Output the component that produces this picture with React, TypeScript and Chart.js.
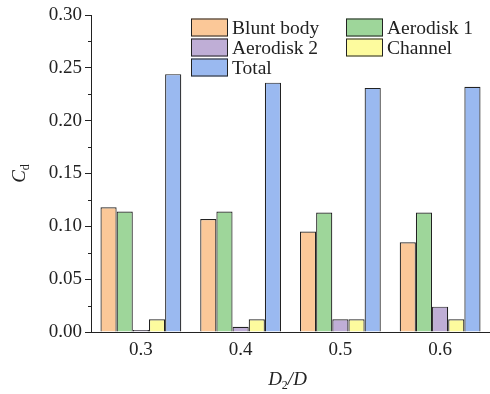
import React, { useEffect, useRef } from "react";
import { Chart, registerables } from "chart.js";

Chart.register(...registerables);

// Drag coefficient contributions for each D2/D ratio
const categories = ["0.3", "0.4", "0.5", "0.6"];
const bluntBody = [0.118, 0.107, 0.095, 0.085];
const aerodisk1 = [0.114, 0.114, 0.113, 0.113];
const aerodisk2 = [0.002, 0.005, 0.012, 0.024];
const channel = [0.012, 0.012, 0.012, 0.012];
const total = [0.244, 0.236, 0.231, 0.232];

const seriesLabels = ["Blunt body", "Aerodisk 1", "Aerodisk 2", "Channel", "Total"];
const seriesColors = ["#FBC898", "#9ED69A", "#BFAED6", "#FDFB9E", "#9AB9F0"];

const yMin = 0;
const yMax = 0.3;
const yStep = 0.05;

const FONT = "'Liberation Serif', 'Times New Roman', serif";
const INK = "#222";

// Minor y ticks, axis titles with subscripts, and the in-plot legend
const decorations = {
  id: "decorations",
  afterDraw(chart: any) {
    const { ctx, chartArea } = chart;
    const yScale = chart.scales.y;
    ctx.save();

    // minor ticks between the labelled ones
    ctx.strokeStyle = INK;
    ctx.lineWidth = 1;
    for (let v = yMin + yStep / 2; v < yMax; v += yStep) {
      const py = Math.round(yScale.getPixelForValue(v)) + 0.5;
      ctx.beginPath();
      ctx.moveTo(chartArea.left - 3, py);
      ctx.lineTo(chartArea.left, py);
      ctx.stroke();
    }

    // y-axis title: C_d
    ctx.save();
    ctx.translate(25, (chartArea.top + chartArea.bottom) / 2);
    ctx.rotate(-Math.PI / 2);
    ctx.fillStyle = INK;
    ctx.textBaseline = "alphabetic";
    ctx.font = `italic 19px ${FONT}`;
    const wC = ctx.measureText("C").width;
    ctx.font = `12px ${FONT}`;
    const wd = ctx.measureText("d").width;
    const startY = -(wC + wd) / 2;
    ctx.font = `italic 19px ${FONT}`;
    ctx.fillText("C", startY, 0);
    ctx.font = `12px ${FONT}`;
    ctx.fillText("d", startY + wC, 4);
    ctx.restore();

    // x-axis title: D_2/D
    ctx.fillStyle = INK;
    ctx.textBaseline = "alphabetic";
    ctx.font = `italic 19px ${FONT}`;
    const wD = ctx.measureText("D").width;
    const wRest = ctx.measureText("/D").width;
    ctx.font = `12px ${FONT}`;
    const w2 = ctx.measureText("2").width;
    const cx = (chartArea.left + chartArea.right) / 2 - 3;
    let x = cx - (wD + w2 + wRest) / 2;
    const base = 385;
    ctx.font = `italic 19px ${FONT}`;
    ctx.fillText("D", x, base);
    x += wD;
    ctx.font = `12px ${FONT}`;
    ctx.fillText("2", x, base + 4);
    x += w2;
    ctx.font = `italic 19px ${FONT}`;
    ctx.fillText("/D", x, base);

    // legend, two columns filled row by row
    const colX = [191, 346];
    const rowTop = 18.5;
    const rowPitch = 20;
    const boxW = 37;
    const boxH = 18;
    ctx.font = `19.5px ${FONT}`;
    ctx.textBaseline = "middle";
    chart.data.datasets.forEach((ds: any, i: number) => {
      const bx = colX[i % 2];
      const by = rowTop + Math.floor(i / 2) * rowPitch;
      ctx.fillStyle = ds.backgroundColor;
      ctx.fillRect(bx, by, boxW, boxH);
      ctx.strokeStyle = INK;
      ctx.lineWidth = 1;
      ctx.strokeRect(bx + 0.5, by + 0.5, boxW - 1, boxH - 1);
      ctx.fillStyle = INK;
      ctx.fillText(ds.label, bx + boxW + 4, by + boxH / 2 + 1);
    });

    ctx.restore();
  },
};

export default function App() {
  const canvasRef = useRef<HTMLCanvasElement | null>(null);

  useEffect(() => {
    document.body.style.margin = "0";
    const canvas = canvasRef.current;
    if (!canvas) return;
    const seriesData = [bluntBody, aerodisk1, aerodisk2, channel, total];
    const chart = new Chart(canvas, {
      type: "bar",
      data: {
        labels: categories,
        datasets: seriesData.map((d, i) => ({
          label: seriesLabels[i],
          data: d,
          backgroundColor: seriesColors[i],
          borderColor: INK,
          borderWidth: 1.2,
          borderSkipped: "bottom",
          categoryPercentage: 0.81,
          barPercentage: 1,
        })),
      },
      options: {
        responsive: false,
        animation: false,
        layout: { padding: { top: 15, right: 0, left: 0, bottom: 0 } },
        plugins: {
          legend: { display: false },
          tooltip: { enabled: false },
        },
        scales: {
          x: {
            grid: { display: false, drawTicks: false },
            border: { display: true, color: INK, width: 1 },
            ticks: { color: INK, font: { family: FONT, size: 19 }, padding: 7 },
            afterFit(scale: any) {
              scale.height = 62;
            },
          },
          y: {
            min: yMin,
            max: yMax,
            grid: { display: true, drawOnChartArea: false, drawTicks: true, tickLength: 6, color: INK },
            border: { display: true, color: INK, width: 1 },
            ticks: {
              stepSize: yStep,
              padding: 3,
              color: INK,
              font: { family: FONT, size: 19 },
              callback: (v: any) => Number(v).toFixed(2),
            },
            afterFit(scale: any) {
              scale.width = 91;
            },
          },
        },
      },
      plugins: [decorations],
    });
    return () => chart.destroy();
  }, []);

  return (
    <div style={{ width: 490, height: 394, background: "#fff" }}>
      <canvas ref={canvasRef} width={490} height={394} />
    </div>
  );
}
